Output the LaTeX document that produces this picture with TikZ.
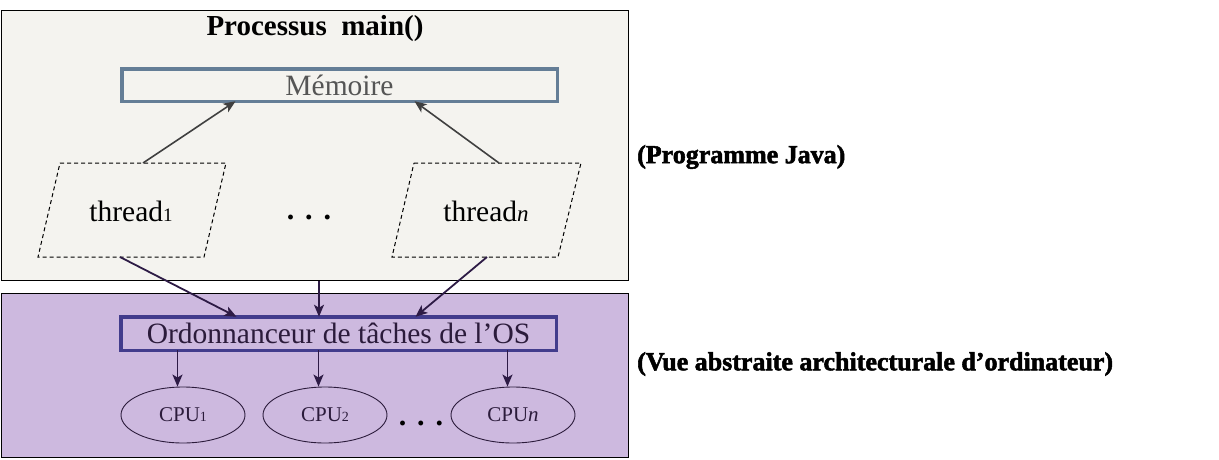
\documentclass[tikz,border=0pt]{standalone}
\usepackage{fontspec}
\setmainfont{Liberation Serif}
\newfontfamily\heavyfont[FakeBold=2]{Liberation Serif Bold}
\usetikzlibrary{shapes.geometric,arrows.meta,calc}
\definecolor{procfill}{HTML}{F4F3EF}
\definecolor{osfill}{HTML}{CDB9DF}
\definecolor{memborder}{HTML}{647D96}
\definecolor{ordborder}{HTML}{423C8C}
\definecolor{memtext}{HTML}{555555}
\definecolor{darktext}{HTML}{2B1B3B}
\definecolor{toparrow}{HTML}{404040}
\definecolor{botarrow}{HTML}{2D1B45}
\tikzset{
  outerbox/.style={draw=black,line width=1pt,rectangle,inner sep=0pt},
  innerbox/.style={rectangle,line width=3.5pt,inner sep=0pt,minimum width=435.5pt},
  threadbox/.style={draw=black,line width=1pt,dash pattern=on 4pt off 3pt},
  uparrow/.style={draw=toparrow,line width=1.6pt,-{Stealth[length=12pt,width=10pt,inset=3pt]}},
  downarrow/.style={draw=botarrow,line width=1.8pt,-{Stealth[length=12pt,width=10pt,inset=3pt]}},
  cpu/.style={ellipse,draw=darktext,line width=0.9pt,minimum width=124pt,minimum height=56pt,inner sep=0pt,text=darktext,font=\fontsize{21}{21}\selectfont},
  plain/.style={inner sep=0pt},
  sidelabel/.style={inner sep=0pt,anchor=west,font=\heavyfont\fontsize{26}{26}\selectfont}
}
\begin{document}
\begin{tikzpicture}[x=1pt,y=-1pt]
\useasboundingbox (0,0) rectangle (1219,459);
% outer boxes
\node[outerbox,fill=procfill,minimum width=626.5pt,minimum height=270pt] (proc) at (314.75,145) {};
\node[outerbox,fill=osfill,minimum width=626.5pt,minimum height=164.5pt] (os) at (314.75,375.25) {};
% title
\node[plain,font=\bfseries\fontsize{29}{29}\selectfont] (title) at (315,29) {Processus\ \ main()};
% memory
\node[innerbox,draw=memborder,minimum height=32.5pt,text=memtext,font=\fontsize{29.5}{29.5}\selectfont] (mem) at (339.5,85) {Mémoire};
% threads (parallelograms)
\draw[threadbox] (60,163) -- (226,163) -- (204,257) -- (38,257) -- cycle;
\draw[threadbox] (414,163) -- (581,163) -- (558,257) -- (392,257) -- cycle;
\node[plain,font=\fontsize{29.5}{29.5}\selectfont] (th1) at (131,211) {thread{\fontsize{19}{19}\selectfont 1}};
\node[plain,font=\fontsize{29.5}{29.5}\selectfont] (thn) at (486,211) {thread{\fontsize{23}{23}\selectfont\itshape n}};
\node[plain,font=\bfseries\fontsize{30}{30}\selectfont] (dots1) at (309,217) {.\hspace{11pt}.\hspace{11pt}.};
\coordinate (th1top) at (143,163);
\coordinate (thntop) at (499,163);
\coordinate (th1bot) at (120,257);
\coordinate (thnbot) at (487,257);
% scheduler
\node[innerbox,draw=ordborder,minimum height=33.5pt,text=darktext,font=\fontsize{29.5}{29.5}\selectfont] (ord) at (338.5,333.5) {Ordonnanceur de tâches de l’OS};
% CPUs
\node[cpu] (cpu1) at (183,415) {CPU{\fontsize{14}{14}\selectfont 1}};
\node[cpu] (cpu2) at (325,415) {CPU{\fontsize{14}{14}\selectfont 2}};
\node[cpu] (cpun) at (513,415) {CPU{\itshape n}};
\node[plain,font=\bfseries\fontsize{30}{30}\selectfont] (dots2) at (421,423) {.\hspace{11pt}.\hspace{11pt}.};
% side labels
\node[sidelabel] (lab1) at (637,157) {(Programme Java)};
\node[sidelabel] (lab2) at (637,364) {(Vue abstraite architecturale d’ordinateur)};
% arrows to memory
\draw[uparrow] (th1top) -- ($(mem.south west)+(115.5,-1.75)$);
\draw[uparrow] (thntop) -- ($(mem.south west)+(294.5,-1.75)$);
% arrows to scheduler
\draw[downarrow] (th1bot) -- ($(ord.north west)+(117.5,1.75)$);
\draw[downarrow] (proc.south -| {$(ord.north west)+(200,0)$}) -- ($(ord.north west)+(200,1.75)$);
\draw[downarrow] (thnbot) -- ($(ord.north west)+(296.5,1.75)$);
% arrows to CPUs
\draw[downarrow] ($(ord.south west)+(58.5,-1.75)$) -- (cpu1.north -| {$(ord.south west)+(58.5,0)$});
\draw[downarrow] ($(ord.south west)+(199.5,-1.75)$) -- (cpu2.north -| {$(ord.south west)+(199.5,0)$});
\draw[downarrow] ($(ord.south west)+(388.5,-1.75)$) -- (cpun.north -| {$(ord.south west)+(388.5,0)$});
\end{tikzpicture}
\end{document}
